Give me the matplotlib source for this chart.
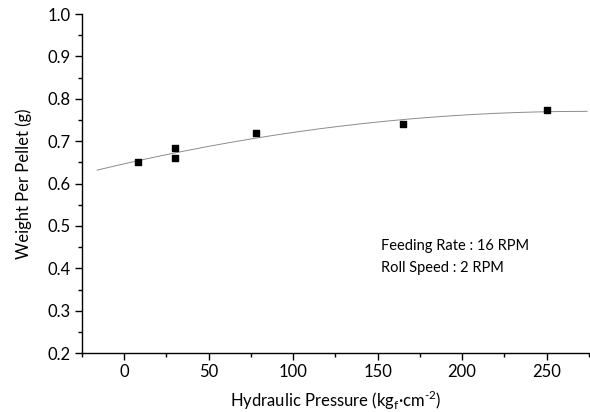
import numpy as np
import matplotlib
matplotlib.use('Agg')
import matplotlib.pyplot as plt
from matplotlib.ticker import MultipleLocator

# Data
pressure = [8, 30, 30, 78, 165, 250]
weight = [0.650, 0.683, 0.660, 0.720, 0.740, 0.773]
fit_range = [-16, 274]

plt.rcParams['font.family'] = ['Lato', 'DejaVu Sans']
plt.rcParams['mathtext.fontset'] = 'custom'
plt.rcParams['mathtext.rm'] = 'Lato'

fig = plt.figure(figsize=(5.9, 4.12), dpi=100)
ax = fig.add_axes([0.139, 0.143, 0.859, 0.823])

# quadratic fit through the points
coef = np.polyfit(pressure, weight, 2)
xs = np.linspace(fit_range[0], fit_range[1], 200)
ax.plot(xs, np.polyval(coef, xs), color='#8c8c8c', lw=0.7, zorder=1)
ax.scatter(pressure, weight, marker='s', s=22, color='black', zorder=2)

ax.set_xlim(-25, 275)
ax.set_ylim(0.2, 1.0)
ax.xaxis.set_major_locator(MultipleLocator(50))
ax.xaxis.set_minor_locator(MultipleLocator(25))
ax.yaxis.set_major_locator(MultipleLocator(0.1))
ax.yaxis.set_minor_locator(MultipleLocator(0.05))
ax.yaxis.set_major_formatter(matplotlib.ticker.FormatStrFormatter('%.1f'))

for side in ['top', 'right']:
    ax.spines[side].set_visible(False)
for side in ['left', 'bottom']:
    ax.spines[side].set_linewidth(1.0)
ax.tick_params(which='major', direction='out', length=5, width=1, labelsize=12, pad=3)
ax.tick_params(which='minor', direction='out', length=3, width=1)

ax.set_xlabel('Hydraulic Pressure (kg$_\\mathregular{f}$·cm$^\\mathregular{\u2010 2}$)',
              fontsize=12, labelpad=6)
ax.set_ylabel('Weight Per Pellet (g)', fontsize=12, labelpad=11)

ax.text(152, 0.453, 'Feeding Rate : 16 RPM', fontsize=10.5, va='center')
ax.text(152, 0.401, 'Roll Speed : 2 RPM', fontsize=10.5, va='center')

fig.savefig('out.png', dpi=100)
